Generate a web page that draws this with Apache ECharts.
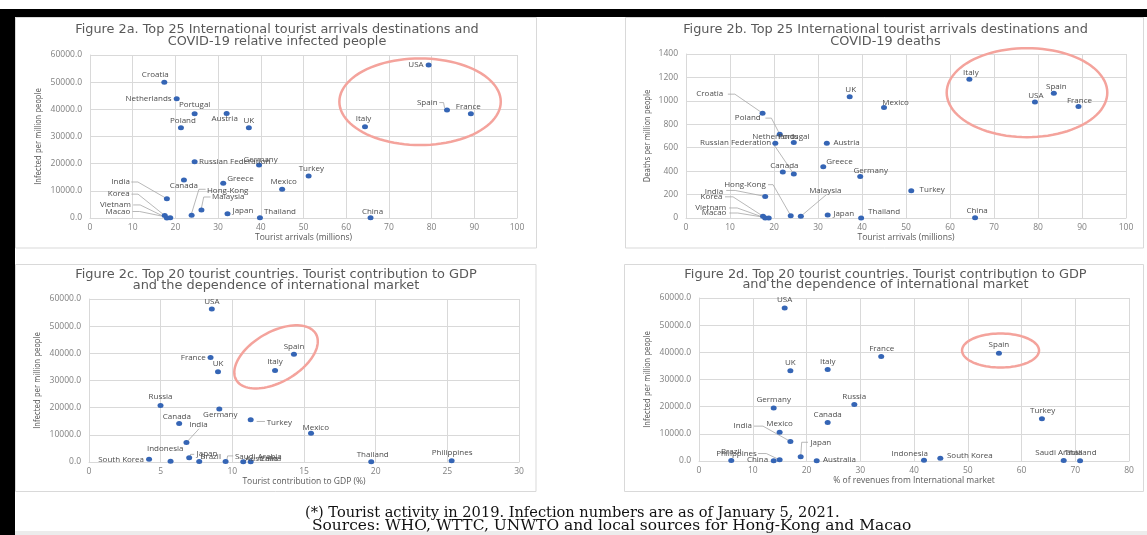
<!DOCTYPE html>
<html><head><meta charset="utf-8">
<script src="https://cdn.jsdelivr.net/npm/echarts@6/dist/echarts.min.js"></script>
<style>html,body{margin:0;padding:0;background:#fff}#c{width:1147px;height:535px}</style>
</head><body><div id="c"></div>
<script>
// ---------- DATA ----------
// Figures 2a / 2b : top 25 destinations
const top25Countries = ['Croatia','Netherlands','Portugal','Austria','Poland','UK','Russian Federation','Germany','Canada','Greece','Mexico','India','Korea','Vietnam','Macao','Hong-Kong','Malaysia','Japan','Thailand','Turkey','China','Italy','USA','Spain','France'];
const touristArrivals = [17.4,20.3,24.5,32.0,21.3,37.2,24.5,39.6,22.0,31.2,45.0,18.0,17.5,18.0,18.8,23.8,26.1,32.2,39.8,51.2,65.7,64.4,79.3,83.6,89.2];
const infectedPerMillion25 = [50000,43900,38400,38500,33250,33250,20700,19500,14000,12800,10600,7100,900,20,70,1000,2950,1550,100,15500,60,33600,56300,39800,38400];
const deathsPerMillion25 = [895,639,644,639,716,1036,375,355,392,437,943,184,15,0.4,0,20,15,25,1,232,3,1184,991,1065,951];

// Figures 2c / 2d : top 20 tourist countries
const top20Countries = ['USA','France','UK','Italy','Spain','Russia','Germany','Canada','India','Turkey','Mexico','Thailand','Philippines','South Korea','Indonesia','Japan','Brazil','Saudi Arabia','Australia','China'];
const tourismGdpShare = [8.57,8.48,9.0,12.98,14.3,4.99,9.09,6.29,6.8,11.28,15.49,19.69,25.3,4.19,5.69,6.99,7.69,9.53,10.76,11.28];
const intlRevenueShare = [15.94,33.9,17.0,23.94,55.8,28.9,13.9,23.94,17.0,63.8,15.0,70.9,15.0,44.9,41.86,18.92,6.0,67.85,21.9,13.9];
const infectedPerMillion20 = [56300,38450,33250,33650,39700,20800,19500,14200,7200,15550,10600,100,430,1000,300,1600,150,150,100,60];

const titles = [
  ['Figure 2a. Top 25 International tourist arrivals destinations and','COVID-19 relative infected people'],
  ['Figure 2b. Top 25 International tourist arrivals destinations and','COVID-19 deaths'],
  ['Figure 2c. Top 20 tourist countries. Tourist contribution to GDP','and the dependence of international market'],
  ['Figure 2d. Top 20 tourist countries. Tourist contribution to GDP','and the dependence of international market']
];
const xNames = ['Tourist arrivals (millions)','Tourist arrivals (millions)','Tourist contribution to GDP (%)','% of revenues from International market'];
const yNames = ['Infected per million people','Deaths per million people','Infected per million people','Infected per million people'];
const footnote1 = '(*) Tourist activity in 2019. Infection numbers are as of January 5, 2021.';
const footnote2 = 'Sources: WHO, WTTC, UNWTO and local sources for Hong-Kong and Macao';

// ---------- LABEL PLACEMENT (style: align, dx, dy in px relative to point) ----------
const labA = {'Croatia':['center',-9,-7],'Netherlands':['right',-5,0],'Portugal':['center',0,-8.5],'Austria':['center',-2,5],'Poland':['center',2,-6.5],'UK':['center',0,-7],'Russian Federation':['left',4.5,0],'Germany':['center',1.5,-5.5],'Canada':['center',0,6],'Greece':['left',4,-5],'Mexico':['center',1.5,-7],'India':['right',-37,-16.7],'Korea':['right',-35,-21.4],'Vietnam':['right',-36,-13],'Macao':['right',-40,-6.3],'Hong-Kong':['left',15.3,-24.6],'Malaysia':['left',10.6,-13],'Japan':['left',5,-3],'Thailand':['left',4,-6],'Turkey':['center',2.7,-7],'China':['center',2,-6.5],'Italy':['center',-1.5,-8],'USA':['right',-5,0],'Spain':['right',-9.4,-7.3],'France':['center',-2.6,-6.7]};
const labB = {'Croatia':['right',-39.4,-19],'Poland':['right',-19,-16],'Netherlands':['center',0,-6.6],'Portugal':['center',0,-5.4],'Russian Federation':['right',-22.6,-31],'Austria':['left',6.6,0],'Canada':['center',1.6,-6.6],'Greece':['left',3,-5.5],'Germany':['left',-6.7,-6],'India':['right',-42,-5],'Korea':['right',-40.6,-19.4],'Vietnam':['right',-39,-10],'Macao':['right',-42.3,-5],'Hong-Kong':['right',-25,-31],'Malaysia':['left',8.3,-26],'Japan':['left',5.6,-1.3],'Thailand':['left',7,-6],'UK':['center',1,-7.4],'Mexico':['left',-1.7,-5],'Turkey':['left',8.3,-1],'China':['center',2,-7],'Italy':['center',1.5,-6.6],'USA':['center',1,-6.3],'Spain':['center',2.5,-6.6],'France':['center',1,-6]};
const labC = {'USA':['center',0,-7.7],'France':['right',-4.7,0],'UK':['center',0,-8],'Italy':['center',0,-8.4],'Spain':['center',0,-7.3],'Russia':['center',0,-8.7],'Germany':['center',1,5.7],'Canada':['center',-2.3,-7],'India':['center',12,-18],'Turkey':['left',16,2.7],'Mexico':['center',4.7,-5],'Thailand':['center',1.5,-6.6],'Philippines':['center',0.5,-8],'South Korea':['right',-5,0],'Indonesia':['center',-5.4,-12],'Japan':['left',7.4,-3.7],'Brazil':['left',1,-4.5],'Saudi Arabia':['left',9.3,-5],'Australia':['left',2,-3],'China':['left',9.3,-3]};
const labD = {'USA':['center',0,-8],'UK':['center',0,-8],'Italy':['center',0,-7.6],'France':['center',0.5,-8],'Germany':['center',0,-8],'Russia':['center',0,-7.6],'Canada':['center',0,-7.6],'Mexico':['center',0,-8],'India':['right',-38.4,-15.3],'Japan':['left',9.7,-14.4],'Brazil':['center',0,-8.4],'Philippines':['right',-22.7,-6.3],'China':['right',-5.5,-1.5],'Australia':['left',6.3,-1],'Indonesia':['center',-14.3,-6],'South Korea':['left',6.6,-2.7],'Spain':['center',0,-8],'Turkey':['center',0.7,-8],'Saudi Arabia':['center',-5,-8],'Thailand':['center',0.5,-8.3]};

// leader lines: pixel offsets from the point
const leadA = {'India':[[-35.6,-16.7],[-29,-16.7],[0,0]],'Korea':[[-33.3,-21.4],[-26.7,-21.4],[0,0]],'Vietnam':[[-33.7,-13],[-26.7,-13],[0,0]],'Macao':[[-37.7,-6.3],[-30.7,-6.3],[0,0]],'Hong-Kong':[[14,-26],[7.3,-26],[0,-2]],'Malaysia':[[9,-13],[2.3,-13],[0,-2]],'Spain':[[-7.7,-7.3],[-3.4,-7.3],[-2.4,-2]]};
const leadB = {'Croatia':[[-34.7,-19],[-27.7,-19],[0,0]],'Poland':[[-14.3,-16],[-8.3,-16],[0,0]],'Russian Federation':[[-21,-31],[0,0]],'India':[[-39,-6],[-30,-6],[0,0]],'Korea':[[-38,-19.4],[-30,-19.4],[0,0]],'Vietnam':[[-36,-10],[-28,-10],[0,0]],'Macao':[[-39.3,-5],[-31,-5],[0,0]],'Hong-Kong':[[-22.7,-31],[-17.7,-31],[0,0]],'Malaysia':[[25.7,-21.7],[0,0]]};
const leadC = {'India':[[12.6,-13.7],[0,0]],'Turkey':[[6,1.7],[14.3,1.7]],'Japan':[[1.3,-0.7],[1.3,-3.3],[5,-3.3]],'Saudi Arabia':[[1,0],[2,-5.7],[7.6,-5.7]]};
const leadD = {'India':[[-36.4,-15.3],[-27.4,-15.3],[0,0]],'Japan':[[0,0],[1,-14.4],[7.3,-14.4]],'Philippines':[[-21.7,-6.3],[-13.3,-6.3],[0,0]]};

// highlight ellipses (centre in data units, radii in px)
const ellipses = [
  {grid:0, at:[77.3,42800], rx:80.7, ry:43.3, rot:0},
  {grid:1, at:[77.5,1070], rx:80.3, ry:44.5, rot:0},
  {grid:2, at:[13.05,38690], rx:46, ry:25, rot:-30},
  {grid:3, at:[56.1,40670], rx:38.5, ry:17, rot:0}
];

// ---------- STYLE ----------
const SANS = 'Open Sans';
const TITLEF = 'DejaVu Sans';
const SERIF = 'DejaVu Serif';
const DOT = '#3565b5';
const GRIDC = '#d9d9d9';
const LABC = '#4d4d4d';
const measure = document.createElement('canvas').getContext('2d');
function fitSize(text, family, target){ measure.font = '100px "' + family + '"'; return 100 * target / measure.measureText(text).width; }

const panels = [
  {grid:{left:90, top:55, width:427, height:163}, x:[0,100,10], y:[0,60000,10000], dec:1, yGap:47, tx:277, ty:30, lh:11.7, tw:404},
  {grid:{left:686, top:54, width:440, height:164}, x:[0,100,10], y:[0,1400,200], dec:0, yGap:34, tx:885.5, ty:30, lh:11.7, tw:405},
  {grid:{left:89, top:299, width:430, height:163}, x:[0,30,5], y:[0,60000,10000], dec:1, yGap:47, tx:276, ty:275, lh:10.5, tw:402},
  {grid:{left:699, top:298, width:430, height:163}, x:[0,80,10], y:[0,60000,10000], dec:1, yGap:47, tx:885.5, ty:274.3, lh:10.5, tw:403}
];

function mkData(names, xs, ys, lab){
  return names.map((n,i)=>{
    const p = lab[n] || ['center',0,-7];
    return {name:n, value:[xs[i], ys[i]], label:{align:p[0], offset:[p[1],p[2]]}};
  });
}
const seriesData = [
  mkData(top25Countries, touristArrivals, infectedPerMillion25, labA),
  mkData(top25Countries, touristArrivals, deathsPerMillion25, labB),
  mkData(top20Countries, tourismGdpShare, infectedPerMillion20, labC),
  mkData(top20Countries, intlRevenueShare, infectedPerMillion20, labD)
];
const seriesNames = ['Infected per million (2a)','Deaths per million (2b)','Infected per million (2c)','Infected per million (2d)'];

const option = {
  animation:false,
  backgroundColor:'#ffffff',
  title: panels.map((p,k)=>{
    const fs = fitSize(titles[k][0], TITLEF, p.tw);
    return {text: titles[k].join('\n'), left:p.tx, top:p.ty - p.lh/2, textAlign:'center', padding:0,
      textStyle:{fontFamily:TITLEF, fontSize:fs, fontWeight:'normal', color:'#595959', lineHeight:p.lh}};
  }),
  grid: panels.map(p=>Object.assign({outerBoundsMode:'none', containLabel:false}, p.grid)),
  xAxis: panels.map((p,k)=>({
    type:'value', gridIndex:k, min:p.x[0], max:p.x[1], interval:p.x[2],
    name:xNames[k], nameLocation:'middle', nameGap:13,
    nameTextStyle:{fontFamily:SANS, fontSize:8.5, color:'#595959'},
    axisLine:{show:true, lineStyle:{color:GRIDC, width:1}}, axisTick:{show:false},
    axisLabel:{fontFamily:SANS, fontSize:8.5, color:'#808080', margin:5},
    splitLine:{show:true, lineStyle:{color:GRIDC, width:1}}
  })),
  yAxis: panels.map((p,k)=>({
    type:'value', gridIndex:k, min:p.y[0], max:p.y[1], interval:p.y[2],
    name:yNames[k], nameLocation:'middle', nameGap:p.yGap, nameRotate:90,
    nameTextStyle:{fontFamily:'Liberation Sans Narrow, DejaVu Sans Condensed, sans-serif', fontSize:8, color:'#595959'},
    axisLine:{show:true, lineStyle:{color:GRIDC, width:1}}, axisTick:{show:false},
    axisLabel:{fontFamily:SANS, fontSize:8.5, color:'#808080', margin:8, formatter:v=>v.toFixed(p.dec)},
    splitLine:{show:true, lineStyle:{color:GRIDC, width:1}}
  })),
  series: seriesData.map((d,k)=>({
    type:'scatter', name:seriesNames[k], xAxisIndex:k, yAxisIndex:k, data:d,
    symbol:'circle', symbolSize:[6,5], itemStyle:{color:DOT, opacity:1},
    label:{show:true, position:'inside', formatter:'{b}', verticalAlign:'middle', color:LABC, fontFamily:SANS, fontSize:8},
    emphasis:{disabled:true}
  }))
};

const chart = echarts.init(document.getElementById('c'), null, {renderer:'canvas', width:1147, height:535});
chart.setOption(option);

// ---------- ANNOTATIONS ----------
const g = [];
// page frame
g.push({type:'rect', shape:{x:0,y:9,width:1147,height:8}, style:{fill:'#000'}, z:-20, silent:true});
g.push({type:'rect', shape:{x:0,y:9,width:15,height:526}, style:{fill:'#000'}, z:-20, silent:true});
g.push({type:'rect', shape:{x:15,y:531,width:1132,height:4}, style:{fill:'#ececec'}, z:-20, silent:true});
[[15.5,17.5,521,230.5],[625.5,17.5,518,230.5],[15.5,264.5,520.5,227],[624.5,264.5,519,227]].forEach(r=>{
  g.push({type:'rect', shape:{x:r[0],y:r[1],width:r[2],height:r[3]}, style:{fill:'#fff', stroke:'#d9d9d9', lineWidth:1}, z:-15, silent:true});
});
// footnote
const fnSize1 = fitSize(footnote1, SERIF, 535);
const fnSize2 = fitSize(footnote2, SERIF, 600);
g.push({type:'text', x:305, y:513, style:{text:footnote1, fontFamily:SERIF, fontSize:fnSize1, fill:'#111', verticalAlign:'middle'}, silent:true});
g.push({type:'text', x:312, y:526, style:{text:footnote2, fontFamily:SERIF, fontSize:fnSize2, fill:'#111', verticalAlign:'middle'}, silent:true});

// leader lines
const leadSets = [[leadA, top25Countries, touristArrivals, infectedPerMillion25],
                  [leadB, top25Countries, touristArrivals, deathsPerMillion25],
                  [leadC, top20Countries, tourismGdpShare, infectedPerMillion20],
                  [leadD, top20Countries, intlRevenueShare, infectedPerMillion20]];
leadSets.forEach((s,k)=>{
  const [lead, names, xs, ys] = s;
  Object.keys(lead).forEach(n=>{
    const i = names.indexOf(n);
    const pt = chart.convertToPixel({gridIndex:k}, [xs[i], ys[i]]);
    const pts = lead[n].map(o=>[pt[0]+o[0], pt[1]+o[1]]);
    g.push({type:'polyline', shape:{points:pts}, style:{stroke:'#a6a6a6', lineWidth:0.8, fill:'none'}, z:1, silent:true});
  });
});
// ellipses
ellipses.forEach(e=>{
  const c = chart.convertToPixel({gridIndex:e.grid}, e.at);
  const t = e.rot*Math.PI/180, pts=[];
  for(let i=0;i<96;i++){ const a=i/96*2*Math.PI; const ex=e.rx*Math.cos(a), ey=e.ry*Math.sin(a);
    pts.push([c[0]+ex*Math.cos(t)-ey*Math.sin(t), c[1]+ex*Math.sin(t)+ey*Math.cos(t)]); }
  g.push({type:'polygon', shape:{points:pts}, style:{stroke:'#f4a39c', lineWidth:2.5, fill:'none'}, z:10, silent:true});
});
chart.setOption({graphic:{elements:g}});
</script>
</body></html>
